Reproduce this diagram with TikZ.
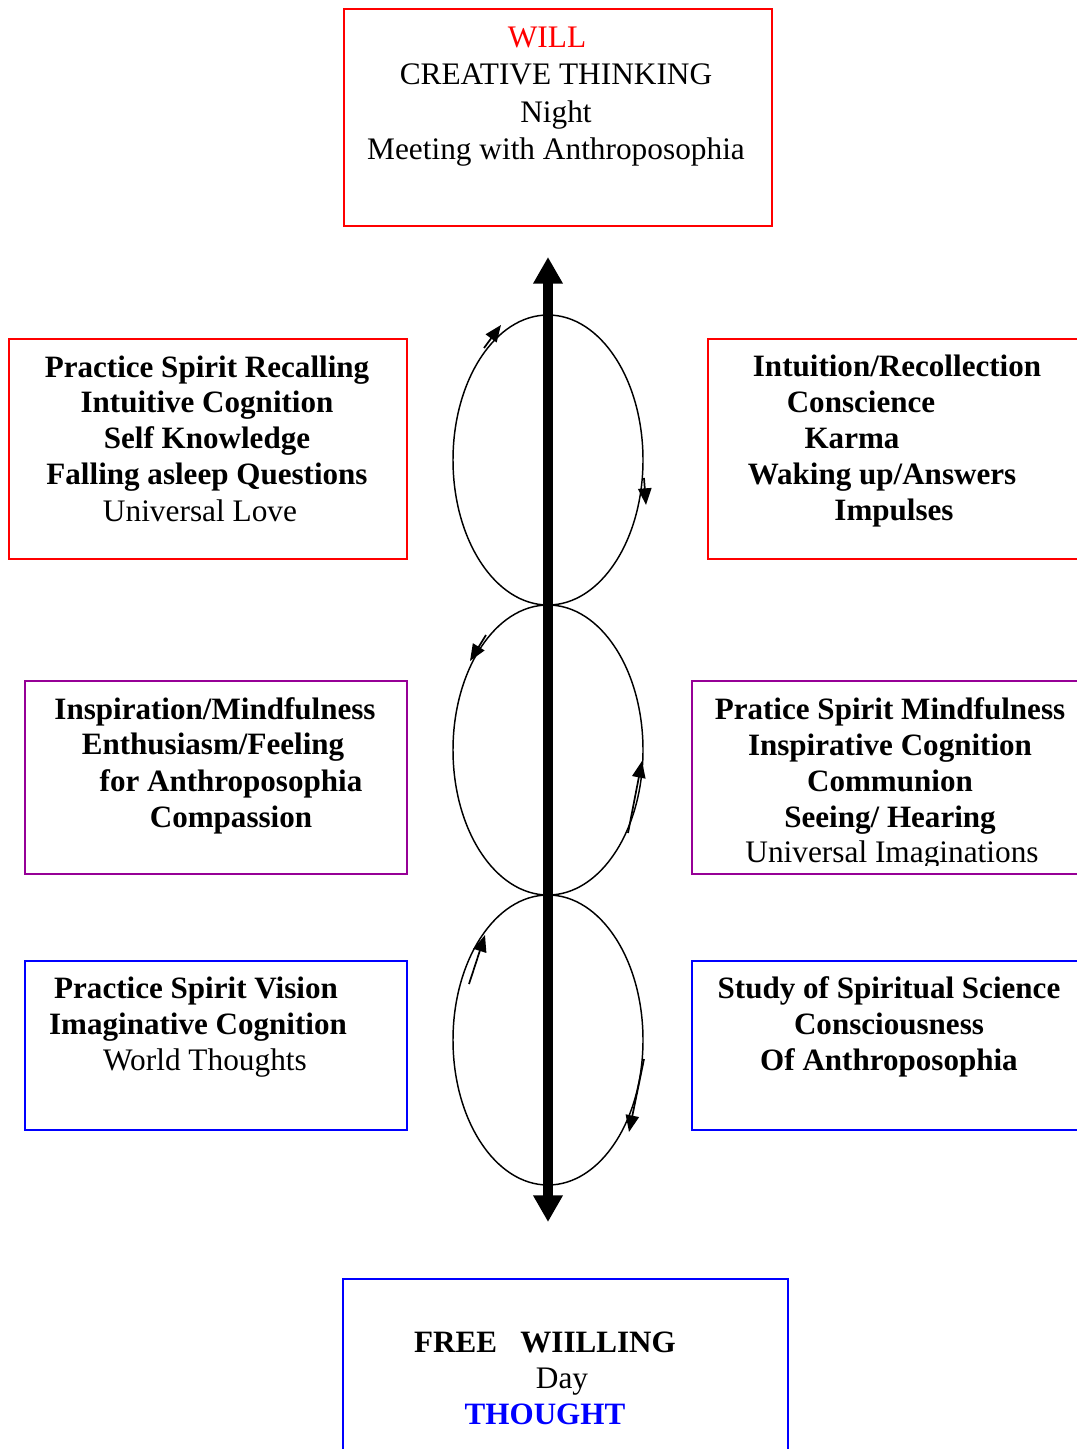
\documentclass[tikz,border=0pt]{standalone}
\usepackage{fontspec}
\setmainfont{Liberation Serif}
\usetikzlibrary{arrows.meta,shapes.geometric}
\definecolor{boxred}{RGB}{255,0,0}
\definecolor{boxpurple}{RGB}{150,0,150}
\definecolor{boxblue}{RGB}{0,0,255}
\begin{document}
\begin{tikzpicture}[x=0.75pt,y=-0.75pt,
  frame/.style={draw, line width=1.5pt, inner sep=0pt, anchor=north west},
  redframe/.style={frame, draw=boxred},
  purpleframe/.style={frame, draw=boxpurple},
  blueframe/.style={frame, draw=boxblue},
  txt/.style={anchor=base, inner sep=0pt, font=\fontsize{23.5}{27}\selectfont},
  btxt/.style={txt, font=\fontsize{23.3}{27}\selectfont\bfseries},
  loop/.style={draw, ellipse, line width=1.1pt, inner sep=0pt, minimum width=142.5pt, minimum height=217.5pt},
  small/.style={line width=1.3pt, -{Triangle[length=12.5pt,width=10pt]}},
  mainarrow/.style={line width=7.5pt, {Triangle[length=20pt,width=21pt]}-{Triangle[length=20pt,width=21pt]}}
]
\useasboundingbox (0,0) rectangle (1077,1449);
\clip (0,0) rectangle (1077,1449);
\fill[white] (0,0) rectangle (1077,1449);

% boxes
\node[redframe, minimum width=321pt, minimum height=162.75pt] (topbox) at (343,8) {};
\node[redframe, minimum width=298.5pt, minimum height=165pt] (l1) at (8,338) {};
\node[redframe, minimum width=300pt, minimum height=165pt] (r1) at (707,338) {};
\node[purpleframe, minimum width=286.5pt, minimum height=144.75pt] (l2) at (24,680) {};
\node[purpleframe, minimum width=300pt, minimum height=144.75pt] (r2) at (691,680) {};
\node[blueframe, minimum width=286.5pt, minimum height=126.75pt] (l3) at (24,960) {};
\node[blueframe, minimum width=300pt, minimum height=126.75pt] (r3) at (691,960) {};
\node[blueframe, minimum width=333.75pt, minimum height=150pt] (bot) at (342,1278) {};

% top box text
\node[txt, text=boxred] (t1) at (547,47) {WILL};
\node[txt] (t2) at (556,84) {CREATIVE THINKING};
\node[txt] (t3) at (556,122) {Night};
\node[txt] (t4) at (556,159) {Meeting with Anthroposophia};

% left box 1
\node[btxt] (l1a) at (207,377) {Practice Spirit Recalling};
\node[btxt] (l1b) at (207,412) {Intuitive Cognition};
\node[btxt] (l1c) at (207,448) {Self Knowledge};
\node[btxt] (l1d) at (207,484) {Falling asleep Questions};
\node[txt] (l1e) at (200,521) {Universal Love};

% right box 1
\node[btxt] (r1a) at (897,376) {Intuition/Recollection};
\node[btxt] (r1b) at (861,412) {Conscience};
\node[btxt] (r1c) at (852,448) {Karma};
\node[btxt] (r1d) at (882,484) {Waking up/Answers};
\node[btxt] (r1e) at (894,520) {Impulses};

% left box 2
\node[btxt] (l2a) at (215,719) {Inspiration/Mindfulness};
\node[btxt] (l2b) at (213,754) {Enthusiasm/Feeling};
\node[btxt] (l2c) at (231,791) {for Anthroposophia};
\node[btxt] (l2d) at (231,827) {Compassion};

% right box 2
\node[btxt] (r2a) at (890,719) {Pratice Spirit Mindfulness};
\node[btxt] (r2b) at (890,755) {Inspirative Cognition};
\node[btxt] (r2c) at (890,791) {Communion};
\node[btxt] (r2d) at (890,827) {Seeing/ Hearing};
\begin{scope}
\clip (693,840) rectangle (1077,865);
\node[txt] (r2e) at (892,862) {Universal Imaginations};
\end{scope}

% left box 3
\node[btxt] (l3a) at (196,998) {Practice Spirit Vision};
\node[btxt] (l3b) at (198,1034) {Imaginative Cognition};
\node[txt] (l3c) at (205,1070) {World Thoughts};

% right box 3
\node[btxt] (r3a) at (889,998) {Study of Spiritual Science};
\node[btxt] (r3b) at (889,1034) {Consciousness};
\node[btxt] (r3c) at (889,1070) {Of Anthroposophia};

% bottom box
\node[btxt] (b1) at (545,1352) {FREE\ \ \ WIILLING};
\node[txt] (b2) at (562,1388) {Day};
\node[btxt, text=boxblue] (b3) at (545,1424) {THOUGHT};

% loops
\node[loop] (e1) at (548,460) {};
\node[loop] (e2) at (548,750) {};
\node[loop] (e3) at (548,1040) {};

% small arrows on loops
\coordinate (a1s) at (484,348); \coordinate (a1e) at (501,325);
\coordinate (a2s) at (644,478); \coordinate (a2e) at (646,505);
\coordinate (a3s) at (486,635); \coordinate (a3e) at (470,661);
\coordinate (a4s) at (628,833); \coordinate (a4e) at (642,761);
\coordinate (a5s) at (469,984); \coordinate (a5e) at (485,935);
\coordinate (a6s) at (644,1059); \coordinate (a6e) at (629,1132);
\draw[small] (a1s) -- (a1e);
\draw[small] (a2s) -- (a2e);
\draw[small] (a3s) -- (a3e);
\draw[small] (a4s) -- (a4e);
\draw[small] (a5s) -- (a5e);
\draw[small] (a6s) -- (a6e);

% main axis
\coordinate (axtop) at (548,257);
\coordinate (axbot) at (548,1222);
\draw[mainarrow] (axbot) -- (axtop);
\end{tikzpicture}
\end{document}
